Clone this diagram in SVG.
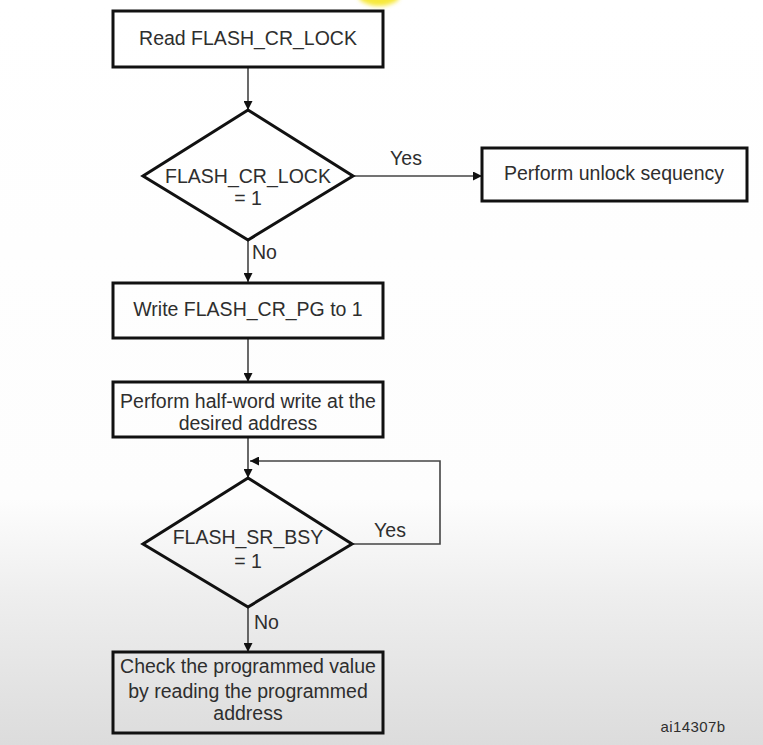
<svg xmlns="http://www.w3.org/2000/svg" width="763" height="745" viewBox="0 0 763 745">
  <defs>
    <linearGradient id="bg" x1="0" y1="0" x2="0" y2="1">
      <stop offset="0" stop-color="#ffffff"/>
      <stop offset="0.67" stop-color="#fdfdfd"/>
      <stop offset="0.8" stop-color="#eeeeee"/>
      <stop offset="1" stop-color="#dcdcdc"/>
    </linearGradient>
    <filter id="blur" x="-50%" y="-50%" width="200%" height="200%">
      <feGaussianBlur stdDeviation="2"/>
    </filter>
    <marker id="arr" viewBox="0 0 10 10" refX="10" refY="5" markerWidth="9" markerHeight="9" markerUnits="userSpaceOnUse" orient="auto">
      <path d="M0,0 L10,5 L0,10 Z" fill="#111"/>
    </marker>
  </defs>
  <style>
    .box { fill: none; stroke: #111; stroke-width: 3; }
    .dia { fill: none; stroke: #111; stroke-width: 3; stroke-linejoin: miter; }
    .con { fill: none; stroke: #444; stroke-width: 1.6; }
    text { font-family: "Liberation Sans", Arial, sans-serif; font-size: 19.5px; fill: #2e2e2e; }
    .c { text-anchor: middle; }
    .small { font-size: 15px; letter-spacing: 0.4px; }
  </style>
  <rect x="0" y="0" width="763" height="745" fill="url(#bg)"/>
  <ellipse cx="379" cy="-5" rx="21" ry="11" fill="#f7e83a" filter="url(#blur)"/>

  <g id="connectors">
    <line class="con" x1="248" y1="67" x2="248" y2="110" marker-end="url(#arr)"/>
    <line class="con" x1="353" y1="176" x2="482" y2="176" marker-end="url(#arr)"/>
    <line class="con" x1="248" y1="240" x2="248" y2="282" marker-end="url(#arr)"/>
    <line class="con" x1="248" y1="338" x2="248" y2="382" marker-end="url(#arr)"/>
    <line class="con" x1="248" y1="437" x2="248" y2="478" marker-end="url(#arr)"/>
    <polyline class="con" points="353,544 440,544 440,461 250,461" marker-end="url(#arr)"/>
    <line class="con" x1="248" y1="607" x2="248" y2="652" marker-end="url(#arr)"/>
    <text x="406" y="165" class="c">Yes</text>
    <text x="252" y="259">No</text>
    <text x="390" y="537" class="c">Yes</text>
    <text x="254" y="629">No</text>
  </g>

  <g id="n1">
    <rect class="box" x="113" y="11" width="270" height="56"/>
    <text x="248" y="45" class="c">Read FLASH_CR_LOCK</text>
  </g>
  <g id="d1">
    <polygon class="dia" points="248,110 353,176 248,240 143,176"/>
    <text x="248" y="183" class="c">FLASH_CR_LOCK</text>
    <text x="248" y="205" class="c">= 1</text>
  </g>
  <g id="n2">
    <rect class="box" x="482" y="148" width="265" height="53"/>
    <text x="614" y="180" class="c">Perform unlock sequency</text>
  </g>
  <g id="n3">
    <rect class="box" x="113" y="283" width="270" height="55"/>
    <text x="248" y="316" class="c">Write FLASH_CR_PG to 1</text>
  </g>
  <g id="n4">
    <rect class="box" x="113" y="382" width="270" height="55"/>
    <text x="248" y="408" class="c">Perform half-word write at the</text>
    <text x="248" y="430" class="c">desired address</text>
  </g>
  <g id="d2">
    <polygon class="dia" points="248,478 352,544 248,607 143,544"/>
    <text x="248" y="544" class="c">FLASH_SR_BSY</text>
    <text x="248" y="568" class="c">= 1</text>
  </g>
  <g id="n5">
    <rect class="box" x="113" y="652" width="270" height="81"/>
    <text x="248" y="673" class="c">Check the programmed value</text>
    <text x="248" y="698" class="c">by reading the programmed</text>
    <text x="248" y="720" class="c">address</text>
  </g>
  <text x="693" y="732" class="c small">ai14307b</text>
</svg>
